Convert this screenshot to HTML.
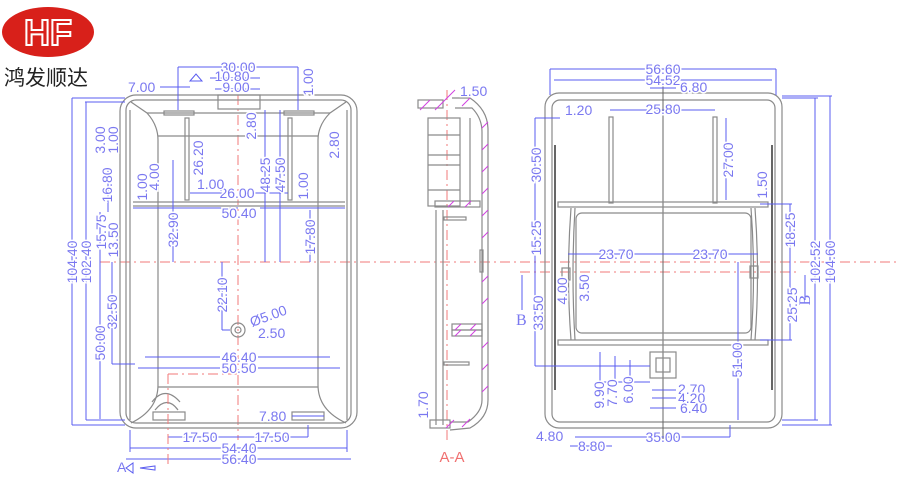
<!DOCTYPE html>
<html><head><meta charset="utf-8"><style>
body{margin:0;background:#fff;width:900px;height:500px;overflow:hidden}
svg{display:block}
.t{font-family:"Liberation Sans",sans-serif;font-size:14px;fill:#7a78f0;paint-order:stroke;stroke:#fff;stroke-width:3px}
.g{fill:none;stroke:#8a8a8a;stroke-width:1.2}
.b{stroke:#5a5cf0;stroke-width:1;fill:none}
.r{stroke:#f27a7a;stroke-width:1;stroke-dasharray:10 4 2 4;fill:none}
.m{stroke:#d040e0;stroke-width:1}
</style></head><body>
<svg width="900" height="500" viewBox="0 0 900 500">
<!-- logo -->
<ellipse cx="48" cy="32" rx="46" ry="25" fill="#d8201a"/>
<text x="48" y="45" text-anchor="middle" font-family="Liberation Sans,sans-serif" font-size="36" font-weight="bold" fill="none" stroke="#fff" stroke-width="2">HF</text>
<text x="4" y="85" font-family="'Liberation Sans','Noto Sans CJK SC',sans-serif" font-size="21" fill="#222">鸿发顺达</text>

<!-- centre lines -->
<line class="r" x1="100" y1="262" x2="900" y2="262"/>
<line class="r" x1="520" y1="272" x2="800" y2="272"/>
<line class="r" x1="238" y1="95" x2="238" y2="440"/>
<line class="r" x1="447" y1="90" x2="447" y2="440"/>

<!-- LEFT VIEW -->
<rect class="g" x="120" y="95" width="237" height="333" rx="16"/>
<rect class="g" x="126" y="100" width="225" height="323" rx="10"/>
<line class="g" x1="130" y1="110" x2="130" y2="420"/><line class="g" x1="347" y1="110" x2="347" y2="420"/>
<path class="g" d="M131 102 L147 113 Q158 125 158 140 L158 385 Q158 410 131 423 M346 102 L330 113 Q318 125 318 140 L318 385 Q318 410 346 423"/>
<line class="g" x1="147" y1="113" x2="330" y2="113"/>
<line class="g" x1="158" y1="136" x2="318" y2="136"/>
<line class="g" x1="158" y1="387" x2="318" y2="387"/>
<line class="g" x1="133" y1="202" x2="345" y2="202"/><line class="g" x1="133" y1="206" x2="345" y2="206"/>
<rect class="g" x="164" y="111" width="30" height="4"/><rect class="g" x="284" y="111" width="30" height="4"/>
<rect class="g" x="218" y="95" width="42" height="14"/>
<rect class="g" x="185" y="118" width="4" height="82"/><rect class="g" x="288" y="118" width="4" height="82"/>
<path class="g" d="M152 402 Q165 385 180 402 M155 410 Q167 395 178 410"/>
<rect class="g" x="153" y="412" width="32" height="8"/><rect class="g" x="292" y="412" width="32" height="8"/>
<circle class="g" cx="238" cy="330" r="7"/><circle class="g" cx="238" cy="330" r="3"/>
<!-- left dims -->
<g class="b">
<line x1="178" y1="67" x2="298" y2="67"/><line x1="178" y1="67" x2="178" y2="110"/><line x1="298" y1="67" x2="298" y2="110"/>
<line x1="160" y1="87" x2="190" y2="87"/><line x1="210" y1="78" x2="260" y2="78"/><line x1="215" y1="89" x2="260" y2="89"/>
<line x1="72" y1="98" x2="125" y2="98"/><line x1="85" y1="102" x2="125" y2="102"/>
<line x1="72" y1="98" x2="72" y2="425"/><line x1="86" y1="102" x2="86" y2="420"/>
<line x1="72" y1="425" x2="125" y2="425"/><line x1="86" y1="420" x2="125" y2="420"/>
<line x1="100" y1="262" x2="100" y2="419"/><line x1="112" y1="262" x2="112" y2="364"/><line x1="112" y1="364" x2="135" y2="364"/>
<line x1="108" y1="170" x2="108" y2="212"/><line x1="100" y1="212" x2="100" y2="262"/>
<line x1="133" y1="208" x2="238" y2="208"/><line x1="260" y1="208" x2="345" y2="208"/>
<line x1="190" y1="193" x2="225" y2="193"/><line x1="252" y1="193" x2="288" y2="193"/>
<line x1="173" y1="160" x2="173" y2="262"/><line x1="265" y1="110" x2="265" y2="262"/><line x1="280" y1="110" x2="280" y2="262"/><line x1="310" y1="210" x2="310" y2="262"/>
<line x1="222" y1="262" x2="222" y2="330"/><line x1="222" y1="330" x2="230" y2="330"/>
<line x1="145" y1="357" x2="220" y2="357"/><line x1="258" y1="357" x2="330" y2="357"/>
<line x1="138" y1="368" x2="220" y2="368"/><line x1="258" y1="368" x2="340" y2="368"/>
<line x1="292" y1="416" x2="324" y2="416"/>
<line x1="168" y1="437" x2="308" y2="437"/><line x1="308" y1="425" x2="308" y2="437"/>
<line x1="130" y1="448" x2="347" y2="448"/><line x1="126" y1="459" x2="351" y2="459"/>
<line x1="130" y1="430" x2="130" y2="452"/><line x1="347" y1="430" x2="347" y2="452"/>
</g>
<line class="r" x1="168" y1="374" x2="238" y2="374"/><line class="r" x1="168" y1="374" x2="168" y2="468"/>
<path class="b" d="M190 81 L196 74 L202 81 Z M126 468 L133 463 L133 473 Z M140 468 L155 466 L155 470 Z"/>
<g class="t">
<text x="238" y="72" text-anchor="middle">30.00</text>
<text x="232" y="81" text-anchor="middle">10.80</text>
<text x="236" y="92" text-anchor="middle">9.00</text>
<text x="128" y="92">7.00</text>
<text x="272" y="442" text-anchor="middle">17.50</text>
<text x="200" y="442" text-anchor="middle">17.50</text>
<text x="239" y="453" text-anchor="middle">54.40</text>
<text x="239" y="464" text-anchor="middle">56.40</text>
<text x="239" y="218" text-anchor="middle">50.40</text>
<text x="237" y="198" text-anchor="middle">26.00</text>
<text x="197" y="189">1.00</text>
<text x="239" y="362" text-anchor="middle">46.40</text>
<text x="239" y="373" text-anchor="middle">50.50</text>
<text x="259" y="421">7.80</text>
<text x="252" y="327" transform="rotate(-20 252 327)">Ø5.00</text>
<text x="258" y="338">2.50</text>
<text transform="translate(77 262) rotate(-90)" text-anchor="middle">104.40</text>
<text transform="translate(91 262) rotate(-90)" text-anchor="middle">102.40</text>
<text transform="translate(105 343) rotate(-90)" text-anchor="middle">50.00</text>
<text transform="translate(117 312) rotate(-90)" text-anchor="middle">32.50</text>
<text transform="translate(106 232) rotate(-90)" text-anchor="middle">15.75</text>
<text transform="translate(118 240) rotate(-90)" text-anchor="middle">13.50</text>
<text transform="translate(112 185) rotate(-90)" text-anchor="middle">16.80</text>
<text transform="translate(105 140) rotate(-90)" text-anchor="middle">3.00</text>
<text transform="translate(118 140) rotate(-90)" text-anchor="middle">1.00</text>
<text transform="translate(147 187) rotate(-90)" text-anchor="middle">1.00</text>
<text transform="translate(159 177) rotate(-90)" text-anchor="middle">4.00</text>
<text transform="translate(178 230) rotate(-90)" text-anchor="middle">32.90</text>
<text transform="translate(203 158) rotate(-90)" text-anchor="middle">26.20</text>
<text transform="translate(256 126) rotate(-90)" text-anchor="middle">2.80</text>
<text transform="translate(270 175) rotate(-90)" text-anchor="middle">48.25</text>
<text transform="translate(285 175) rotate(-90)" text-anchor="middle">47.50</text>
<text transform="translate(308 186) rotate(-90)" text-anchor="middle">1.00</text>
<text transform="translate(315 237) rotate(-90)" text-anchor="middle">17.80</text>
<text transform="translate(313 82) rotate(-90)" text-anchor="middle">1.00</text>
<text transform="translate(339 145) rotate(-90)" text-anchor="middle">2.80</text>
<text transform="translate(227 295) rotate(-90)" text-anchor="middle">22.10</text>
</g>
<text x="117" y="472" font-family="Liberation Sans,sans-serif" font-size="14" fill="#7a78f0">A</text>

<!-- MIDDLE SECTION -->
<g class="g">
<path d="M452 98 L470 98 Q488 110 488 130 L488 400 Q488 418 470 428 L450 430"/>
<path d="M455 108 L472 108 Q482 118 482 132 L482 400 Q482 412 468 422 L450 422"/>
<rect x="418" y="100" width="25" height="8"/><rect x="428" y="118" width="32" height="88"/>
<line x1="428" y1="135" x2="460" y2="135"/><line x1="428" y1="155" x2="460" y2="155"/><line x1="428" y1="165" x2="460" y2="165"/><line x1="428" y1="190" x2="460" y2="190"/>
<line x1="470" y1="118" x2="470" y2="205"/>
<rect x="435" y="201" width="45" height="6"/><rect x="444" y="217" width="22" height="3"/>
<line x1="436" y1="210" x2="436" y2="425"/><line x1="443" y1="210" x2="443" y2="425"/>
<rect x="452" y="324" width="30" height="6"/><rect x="452" y="330" width="30" height="6"/>
<rect x="444" y="362" width="25" height="3"/>
<rect x="430" y="420" width="20" height="8"/>
<rect x="480" y="250" width="3" height="22"/>
</g>
<g class="m">
<line x1="420" y1="110" x2="430" y2="100"/><line x1="435" y1="110" x2="455" y2="90"/><line x1="462" y1="106" x2="470" y2="98"/>
<line x1="482" y1="128" x2="488" y2="122"/><line x1="482" y1="150" x2="488" y2="144"/><line x1="482" y1="172" x2="488" y2="166"/><line x1="482" y1="194" x2="488" y2="188"/><line x1="482" y1="216" x2="488" y2="210"/><line x1="482" y1="238" x2="488" y2="232"/><line x1="482" y1="282" x2="488" y2="276"/><line x1="482" y1="304" x2="488" y2="298"/><line x1="482" y1="348" x2="488" y2="342"/><line x1="482" y1="370" x2="488" y2="364"/><line x1="482" y1="392" x2="488" y2="386"/>
<line x1="448" y1="207" x2="454" y2="201"/><line x1="465" y1="207" x2="471" y2="201"/>
<line x1="455" y1="330" x2="461" y2="324"/><line x1="470" y1="330" x2="476" y2="324"/><line x1="455" y1="336" x2="461" y2="330"/><line x1="470" y1="336" x2="476" y2="330"/>
<line x1="446" y1="428" x2="454" y2="420"/><line x1="462" y1="427" x2="470" y2="419"/>
</g>
<text x="460" y="96" class="t">1.50</text>
<text class="t" transform="translate(428 405) rotate(-90)" text-anchor="middle">1.70</text>
<text x="452" y="462" text-anchor="middle" font-family="Liberation Sans,sans-serif" font-size="15" fill="#f07070">A-A</text>

<!-- RIGHT VIEW -->
<rect class="g" x="545" y="93" width="237" height="335" rx="14"/>
<rect class="g" x="552" y="100" width="223" height="322" rx="8"/>
<line x1="663" y1="85" x2="663" y2="440" stroke="#666" stroke-width="1"/>
<rect class="g" x="558" y="202" width="210" height="5"/><rect class="g" x="558" y="340" width="210" height="5"/>
<rect class="g" x="576" y="213" width="175" height="120" rx="6"/>
<path class="g" d="M571 208 Q566 275 571 340 M575 208 Q571 275 575 340 M755 208 Q760 275 755 340 M751 208 Q756 275 751 340"/>
<rect class="g" x="609" y="117" width="4" height="86"/><rect class="g" x="713" y="117" width="4" height="86"/>
<rect class="g" x="650" y="352" width="26" height="26"/><rect class="g" x="656" y="358" width="14" height="14"/>
<rect class="g" x="562" y="268" width="8" height="12"/><rect class="g" x="750" y="266" width="8" height="12"/>
<line x1="555" y1="145" x2="555" y2="390" stroke="#666" stroke-width="2"/><line x1="772" y1="145" x2="772" y2="390" stroke="#666" stroke-width="2"/>
<g class="b">
<line x1="550" y1="69" x2="776" y2="69"/><line x1="554" y1="80" x2="772" y2="80"/>
<line x1="550" y1="69" x2="550" y2="95"/><line x1="776" y1="69" x2="776" y2="95"/>
<line x1="650" y1="88" x2="676" y2="88"/>
<line x1="610" y1="110" x2="715" y2="110"/>
<line x1="535" y1="118" x2="560" y2="118"/><line x1="535" y1="118" x2="535" y2="366"/><line x1="535" y1="366" x2="650" y2="366"/>
<line x1="726" y1="118" x2="726" y2="200"/>
<line x1="568" y1="254" x2="758" y2="254"/>
<line x1="790" y1="204" x2="790" y2="340"/><line x1="760" y1="204" x2="792" y2="204"/><line x1="760" y1="340" x2="792" y2="340"/>
<line x1="815" y1="98" x2="815" y2="420"/><line x1="830" y1="96" x2="830" y2="425"/>
<line x1="782" y1="98" x2="818" y2="98"/><line x1="782" y1="96" x2="832" y2="96"/><line x1="782" y1="420" x2="818" y2="420"/><line x1="782" y1="425" x2="832" y2="425"/>
<line x1="738" y1="262" x2="738" y2="420"/>
<line x1="600" y1="352" x2="600" y2="382"/><line x1="615" y1="356" x2="615" y2="382"/><line x1="630" y1="360" x2="630" y2="382"/>
<line x1="600" y1="382" x2="650" y2="382"/>
<line x1="652" y1="390" x2="676" y2="390"/><line x1="652" y1="398" x2="676" y2="398"/><line x1="650" y1="408" x2="676" y2="408"/>
<line x1="575" y1="437" x2="730" y2="437"/><line x1="730" y1="425" x2="730" y2="437"/>
<line x1="570" y1="446" x2="612" y2="446"/>
<line x1="522" y1="275" x2="522" y2="310"/><line x1="805" y1="275" x2="805" y2="300"/>
</g>
<g class="t">
<text x="663" y="74" text-anchor="middle">56.60</text>
<text x="663" y="85" text-anchor="middle">54.52</text>
<text x="680" y="92">6.80</text>
<text x="565" y="115">1.20</text>
<text x="663" y="114" text-anchor="middle">25.80</text>
<text x="616" y="259" text-anchor="middle">23.70</text>
<text x="710" y="259" text-anchor="middle">23.70</text>
<text x="678" y="394">2.70</text>
<text x="678" y="403">4.20</text>
<text x="680" y="413">6.40</text>
<text x="536" y="441">4.80</text>
<text x="663" y="442" text-anchor="middle">35.00</text>
<text x="578" y="451">8.80</text>
<text transform="translate(541 165) rotate(-90)" text-anchor="middle">30.50</text>
<text transform="translate(541 238) rotate(-90)" text-anchor="middle">15.25</text>
<text transform="translate(543 313) rotate(-90)" text-anchor="middle">33.50</text>
<text transform="translate(567 291) rotate(-90)" text-anchor="middle">4.00</text>
<text transform="translate(589 288) rotate(-90)" text-anchor="middle">3.50</text>
<text transform="translate(733 160) rotate(-90)" text-anchor="middle">27.00</text>
<text transform="translate(767 185) rotate(-90)" text-anchor="middle">1.50</text>
<text transform="translate(795 230) rotate(-90)" text-anchor="middle">18.25</text>
<text transform="translate(797 305) rotate(-90)" text-anchor="middle">25.25</text>
<text transform="translate(742 360) rotate(-90)" text-anchor="middle">51.00</text>
<text transform="translate(820 262) rotate(-90)" text-anchor="middle">102.52</text>
<text transform="translate(835 262) rotate(-90)" text-anchor="middle">104.60</text>
<text transform="translate(604 395) rotate(-90)" text-anchor="middle">9.90</text>
<text transform="translate(617 393) rotate(-90)" text-anchor="middle">7.70</text>
<text transform="translate(633 390) rotate(-90)" text-anchor="middle">6.00</text>
</g>
<text x="516" y="325" font-family="Liberation Serif,serif" font-size="16" fill="#7a78f0">B</text>
<text transform="translate(810 300) rotate(-90)" font-family="Liberation Serif,serif" font-size="16" fill="#7a78f0" text-anchor="middle">B</text>
</svg>
</body></html>
